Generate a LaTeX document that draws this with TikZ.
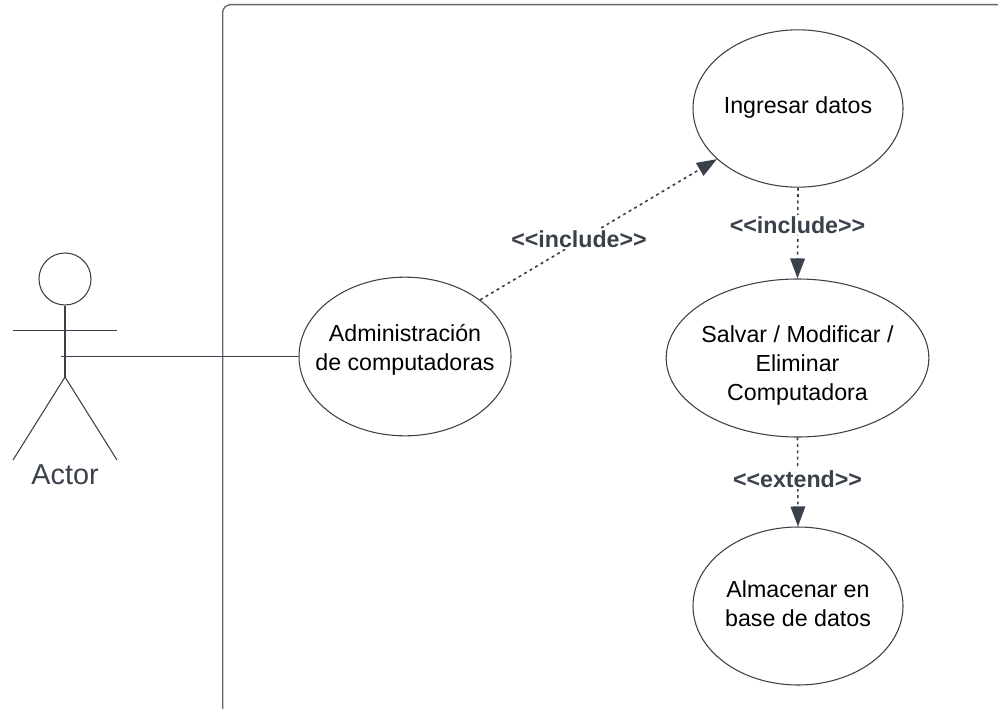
\documentclass[tikz,border=0pt]{standalone}
\usepackage{fontspec}
\setmainfont{Liberation Sans}
\usetikzlibrary{shapes.geometric,arrows.meta}
\definecolor{linegray}{HTML}{3A414A}
\newcommand{\uctext}[2]{\raisebox{#1}[0pt][0pt]{\makebox[0pt]{\begin{tabular}[t]{@{}c@{}}#2\end{tabular}}}}

\begin{document}
\begin{tikzpicture}[x=.75pt,y=-.75pt]
\tikzset{UC/.style={ellipse,draw=linegray,line width=.8pt,inner sep=0pt,
  font=\fontsize{17.4pt}{21.8pt}\selectfont}}
\tikzset{DEP/.style={draw=linegray,line width=1.2pt,dash pattern=on 2.2pt off 2.6pt,
  -{Triangle[length=15pt,width=11pt,fill=linegray]}}}
\tikzset{LBL/.style={fill=white,inner sep=1pt,text=linegray,
  font=\fontsize{17.4pt}{20pt}\selectfont\bfseries}}
\tikzset{STICK/.style={draw=linegray,line width=.8pt}}

  \clip (0,0) rectangle (998,709);

  \node[draw=linegray!80,line width=1pt,rounded corners=6pt,minimum width=675pt,minimum height=534pt,
    anchor=north west] (frame) at (222,4) {};

  \node[UC,minimum width=157.5pt,minimum height=118pt] (ingresar) at (798,108.5)  {\uctext{-4.1pt}{Ingresar datos}};
  \node[UC,minimum width=197pt,minimum height=118.5pt] (salvar) at (797.5,358)  {\uctext{11.6pt}{Salvar / Modificar /\\Eliminar\\Computadora}};
  \node[UC,minimum width=157.5pt,minimum height=118.5pt] (almacenar) at (798,606)  {\uctext{6.4pt}{Almacenar en\\base de datos}};
  \node[UC,minimum width=159pt,minimum height=119pt] (admin) at (405,356.5)  {\uctext{11.2pt}{Administración\\de computadoras}};

  \node[circle,STICK,minimum size=39pt,inner sep=0pt] (head) at (65,279)  {};
  \coordinate (crotch) at (65,377);
  \coordinate (armL) at (13,330.5);
  \coordinate (armR) at (117,330.5);
  \coordinate (footL) at (13,460);
  \coordinate (footR) at (117,460);
  \coordinate (hand) at (61,356.5);
  \node[text=linegray,font=\fontsize{21.6pt}{24pt}\selectfont] (actor) at (65,475)  {Actor};

  \draw[STICK] (head.south) -- (crotch);
  \draw[STICK] (armL) -- (armR);
  \draw[STICK] (footL) -- (crotch) -- (footR);
  \draw[STICK] (hand) -- (admin.west);

  \draw[DEP] (admin.37) -- (ingresar.212);
  \draw[DEP] (ingresar.south) -- (salvar.north);
  \draw[DEP] (salvar.south) -- (almacenar.north);

  \node[LBL] (inc1) at (579,239)  {{<}{<}include{>}{>}};
  \node[LBL] (inc2) at (797.5,225)  {{<}{<}include{>}{>}};
  \node[LBL] (ext1) at (797.5,479)  {{<}{<}extend{>}{>}};
\end{tikzpicture}
\end{document}
